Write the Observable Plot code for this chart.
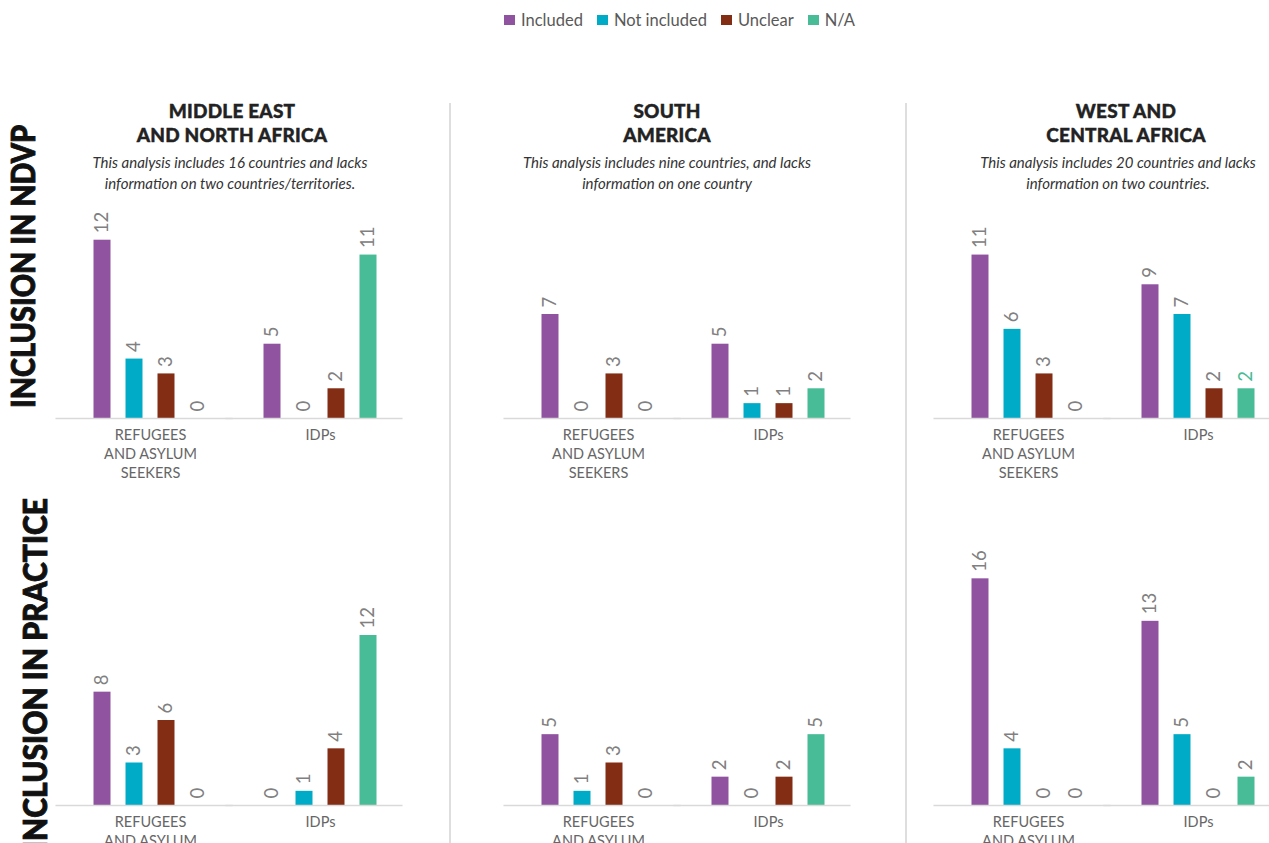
<!DOCTYPE html>
<html>
<head>
<meta charset="utf-8">
<script src="https://cdn.jsdelivr.net/npm/d3@7"></script>
<script src="https://cdn.jsdelivr.net/npm/@observablehq/plot@0.6"></script>
<style>
  html, body { margin: 0; padding: 0; background: #fff; }
  #root { position: relative; width: 1269px; height: 843px; overflow: hidden; font-family: Lato, "Open Sans", sans-serif; }
  .abs { position: absolute; }
  .title { font-weight: 900; font-size: 19px; line-height: 24px; color: #222; text-align: center; white-space: pre; width: 420px; letter-spacing: 0.2px; -webkit-text-stroke: 0.4px #222; }
  .note { font-style: italic; font-size: 15px; line-height: 21px; color: #333; text-align: center; white-space: pre; width: 420px; }
  .legend { display: flex; align-items: center; gap: 14px; font-size: 16.5px; color: #595959; }
  .legend .item { display: flex; align-items: center; gap: 6px; }
  .legend .sw { width: 11px; height: 10px; display: inline-block; }
</style>
</head>
<body>
<div id="root"></div>
<script>
// ---------- data ----------
const categories = ["Included", "Not included", "Unclear", "N/A"];
const categoryColors = ["#8f53a0", "#00abc8", "#832d14", "#48bc96"];
const groups = ["REFUGEES\nAND ASYLUM\nSEEKERS", "IDPs"];
const regionTitles = ["MIDDLE EAST\nAND NORTH AFRICA", "SOUTH\nAMERICA", "WEST AND\nCENTRAL AFRICA"];
const regionNotes = [
  "This analysis includes 16 countries and lacks\ninformation on two countries/territories.",
  "This analysis includes nine countries, and lacks\ninformation on one country",
  "This analysis includes 20 countries and lacks\ninformation on two countries."
];
const rowLabels = ["INCLUSION IN NDVP", "INCLUSION IN PRACTICE"];

// values: [refugees & asylum seekers, IDPs] x [Included, Not included, Unclear, N/A]
const ndvpMENA = [[12, 4, 3, 0], [5, 0, 2, 11]];
const ndvpSA   = [[7, 0, 3, 0], [5, 1, 1, 2]];
const ndvpWCA  = [[11, 6, 3, 0], [9, 7, 2, 2]];
const practiceMENA = [[8, 3, 6, 0], [0, 1, 4, 12]];
const practiceSA   = [[5, 1, 3, 0], [2, 0, 2, 5]];
const practiceWCA  = [[16, 4, 0, 0], [13, 5, 0, 2]];
// value label drawn in series colour in the original (WCA, NDVP, IDPs, N/A)
const colouredLabels = [{row: 0, region: 2, group: 1, cat: 3}];

const rowsData = [[ndvpMENA, ndvpSA, ndvpWCA], [practiceMENA, practiceSA, practiceWCA]];

// ---------- layout ----------
const root = document.getElementById("root");
const panelLeft = [55, 503, 933];
const titleCenter = [232, 667, 1126];
const noteCenter = [230, 667, 1118];
const rowCfg = [
  {top: 200, height: 290, marginBottom: 72, ymax: 14},
  {top: 540, height: 325, marginBottom: 60, ymax: 18}
];

// legend
const legend = document.createElement("div");
legend.className = "abs legend";
legend.style.left = "504px";
legend.style.top = "10px";
categories.forEach((c, i) => {
  const it = document.createElement("div");
  it.className = "item";
  const sw = document.createElement("span");
  sw.className = "sw";
  sw.style.background = categoryColors[i];
  const tx = document.createElement("span");
  tx.textContent = c;
  it.appendChild(sw); it.appendChild(tx);
  legend.appendChild(it);
});
root.appendChild(legend);

// titles and notes
regionTitles.forEach((t, i) => {
  const d = document.createElement("div");
  d.className = "abs title";
  d.style.left = (titleCenter[i] - 210) + "px";
  d.style.top = "99px";
  d.textContent = t;
  root.appendChild(d);
  const n = document.createElement("div");
  n.className = "abs note";
  n.style.left = (noteCenter[i] - 210) + "px";
  n.style.top = "152px";
  n.textContent = regionNotes[i];
  root.appendChild(n);
});

// overlay: separators & row labels
const ns = "http://www.w3.org/2000/svg";
const ov = document.createElementNS(ns, "svg");
ov.setAttribute("width", 1269); ov.setAttribute("height", 843);
ov.setAttribute("class", "abs");
ov.style.left = "0px"; ov.style.top = "0px"; ov.style.pointerEvents = "none";
[450, 906].forEach(x => {
  const l = document.createElementNS(ns, "line");
  l.setAttribute("x1", x); l.setAttribute("x2", x);
  l.setAttribute("y1", 103); l.setAttribute("y2", 843);
  l.setAttribute("stroke", "#c8c8c8"); l.setAttribute("stroke-width", 1.2);
  ov.appendChild(l);
});
const rl = [
  {x: 22, y: 266.5, anchor: "middle", len: 283},
  {x: 34, y: 498, anchor: "end", len: 352}
];
rowLabels.forEach((t, i) => {
  const tx = document.createElementNS(ns, "text");
  tx.setAttribute("transform", `translate(${rl[i].x},${rl[i].y}) rotate(-90)`);
  tx.setAttribute("text-anchor", rl[i].anchor);
  tx.setAttribute("dominant-baseline", "central");
  tx.setAttribute("font-family", "Lato, sans-serif");
  tx.setAttribute("font-weight", "900");
  tx.setAttribute("font-size", "32");
  tx.setAttribute("fill", "#111");
  tx.setAttribute("stroke", "#111");
  tx.setAttribute("stroke-width", "0.9");
  tx.setAttribute("textLength", rl[i].len);
  tx.setAttribute("lengthAdjust", "spacingAndGlyphs");
  tx.textContent = t;
  ov.appendChild(tx);
});

// panels
rowsData.forEach((regions, r) => {
  regions.forEach((vals, g) => {
    const data = [];
    groups.forEach((grp, gi) => categories.forEach((cat, ci) => {
      const hl = colouredLabels.some(o => o.row === r && o.region === g && o.group === gi && o.cat === ci);
      data.push({group: grp, cat, value: vals[gi][ci], hl});
    }));
    const cfg = rowCfg[r];
    const chart = Plot.plot({
      width: 360,
      height: cfg.height,
      marginLeft: 9.5,
      marginRight: 10.5,
      marginTop: 10,
      marginBottom: cfg.marginBottom,
      style: {fontFamily: "Lato, sans-serif", background: "transparent", overflow: "visible"},
      fx: {domain: groups, padding: 0, axis: null, label: null},
      x: {domain: categories, paddingInner: 0.469, paddingOuter: 0.89, axis: null},
      y: {domain: [0, cfg.ymax], axis: null},
      color: {domain: categories, range: categoryColors},
      marks: [
        Plot.barY(data, {fx: "group", x: "cat", y: "value", fill: "cat"}),
        Plot.ruleY([0], {stroke: "#d9d9d9", strokeWidth: 1.5, insetLeft: -9.5, insetRight: 2.5}),
        Plot.text(data.filter(d => !d.hl), {fx: "group", x: "cat", y: "value", text: d => String(d.value),
          rotate: -90, textAnchor: "start", lineAnchor: "middle", dy: -7, fontSize: 18.5, fill: "#808080"}),
        Plot.text(data.filter(d => d.hl), {fx: "group", x: "cat", y: "value", text: d => String(d.value),
          rotate: -90, textAnchor: "start", lineAnchor: "middle", dy: -7, fontSize: 18.5, fill: categoryColors[3]}),
        Plot.text(groups, {fx: d => d, text: d => d, frameAnchor: "bottom", lineAnchor: "top", dy: 8,
          fontSize: 14.5, lineHeight: 1.3, fill: "#666"})
      ]
    });
    chart.classList.add("abs");
    chart.style.left = panelLeft[g] + "px";
    chart.style.top = cfg.top + "px";
    root.appendChild(chart);
  });
});
root.appendChild(ov);
</script>
</body>
</html>
